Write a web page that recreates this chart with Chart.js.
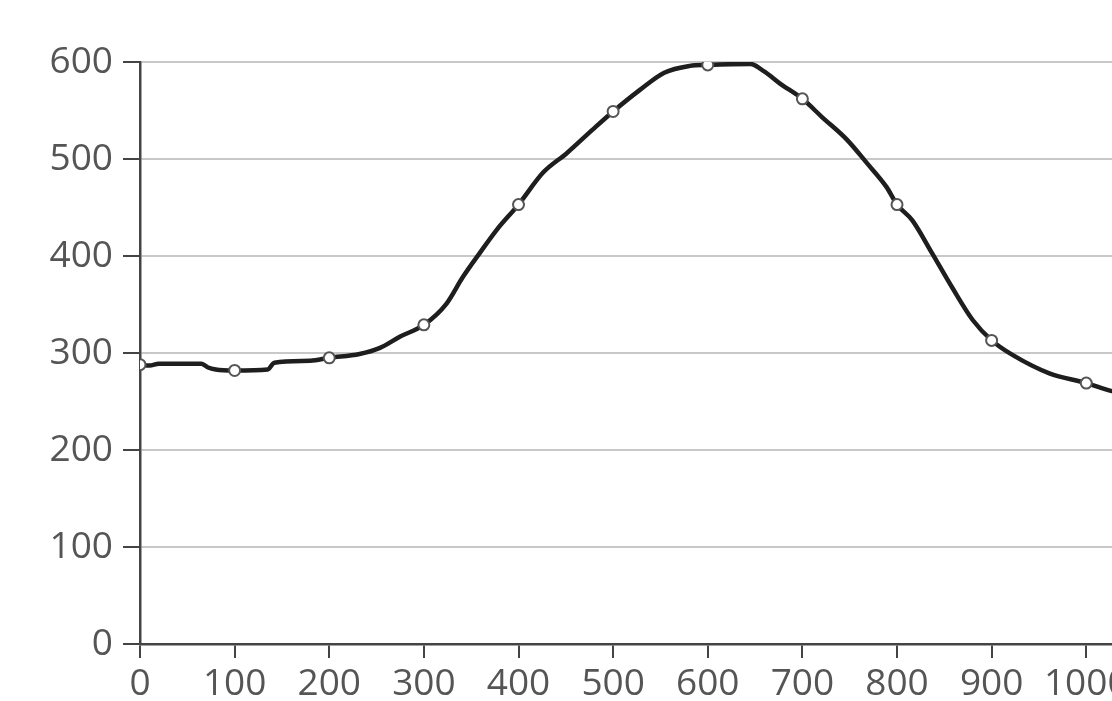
<!DOCTYPE html>
<html>
<head>
<meta charset="utf-8">
<script src="https://cdn.jsdelivr.net/npm/chart.js@4"></script>
<style>
  html, body { margin: 0; padding: 0; background: #ffffff; overflow: hidden; }
  #wrap { width: 1160px; height: 701px; }
</style>
</head>
<body>
<div id="wrap"><canvas id="c" width="1160" height="701"></canvas></div>
<script>
// Data
const xValues = [0, 10, 20, 65, 72, 80, 100, 135, 142, 180, 200, 232, 253, 275, 300, 324, 341, 359, 377, 400, 426, 451, 478, 500, 528, 554, 581, 600, 645, 660, 676, 700, 721, 747, 768, 789, 800, 816, 837, 858, 880, 900, 922, 961, 1000, 1026, 1070];
const yValues = [288, 287, 289, 289, 285, 283, 282, 283, 290, 292, 295, 299, 305, 317, 329, 351, 378, 403, 427, 453, 486, 506, 530, 549, 571, 589, 596, 597, 598, 590, 578, 562, 543, 520, 496, 471, 453, 437, 403, 368, 334, 313, 298, 279, 269, 261, 254];
const markerX = [0, 100, 200, 300, 400, 500, 600, 700, 800, 900, 1000];
const xTicks = [0, 100, 200, 300, 400, 500, 600, 700, 800, 900, 1000];
const yTicks = [0, 100, 200, 300, 400, 500, 600];

const points = xValues.map((x, i) => ({ x: x, y: yValues[i] }));
const FONT = { family: '"Open Sans", "Noto Sans", sans-serif', size: 37 };
const TEXT = '#555555';
const AXIS = '#444444';

new Chart(document.getElementById('c'), {
  type: 'line',
  data: {
    datasets: [{
      data: points,
      borderColor: '#1e1e1e',
      borderWidth: 4.5,
      cubicInterpolationMode: 'monotone',
      pointRadius: ctx => (ctx.raw && markerX.includes(ctx.raw.x)) ? 5.5 : 0,
      pointHoverRadius: 0,
      pointBackgroundColor: '#ffffff',
      pointBorderColor: '#555555',
      pointBorderWidth: 2,
      fill: false
    }]
  },
  options: {
    responsive: false,
    animation: false,
    events: [],
    layout: { padding: { left: 0, top: 62, right: 0, bottom: 0 } },
    plugins: { legend: { display: false }, tooltip: { enabled: false } },
    scales: {
      x: {
        type: 'linear',
        min: 0,
        max: 1070,
        afterBuildTicks: s => { s.ticks = xTicks.map(v => ({ value: v })); },
        afterFit: s => { s.height = 57; },
        ticks: { color: TEXT, font: FONT, padding: 4, maxRotation: 0, autoSkip: false, callback: v => String(v) },
        grid: { drawOnChartArea: false, tickColor: AXIS, tickLength: 14, lineWidth: 2 },
        border: { color: AXIS, width: 2.5 }
      },
      y: {
        min: 0,
        max: 600,
        afterBuildTicks: s => { s.ticks = yTicks.map(v => ({ value: v })); },
        afterFit: s => { s.width = 140; },
        ticks: { color: TEXT, font: FONT, padding: 10, callback: v => String(v) },
        grid: { color: '#c8c8c8', tickColor: AXIS, tickLength: 17, lineWidth: 2 },
        border: { color: AXIS, width: 2.5 }
      }
    }
  }
});
</script>
</body>
</html>
